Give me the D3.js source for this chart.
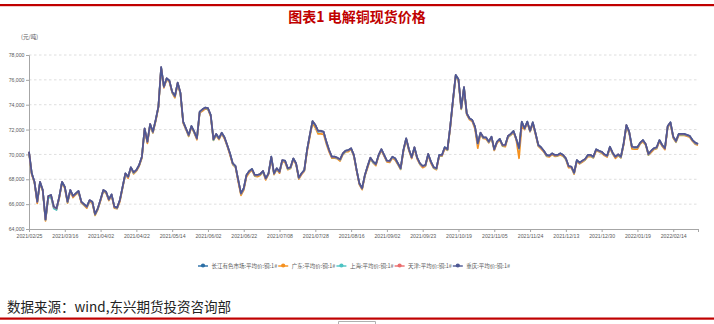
<!DOCTYPE html>
<html>
<head>
<meta charset="utf-8">
<script src="https://cdn.jsdelivr.net/npm/d3@7"></script>
<style>
  html, body { margin: 0; padding: 0; background: #fff; }
  svg { display: block; }
</style>
</head>
<body>
<svg id="chart" width="714" height="324"></svg>
<script>
// Dates labelled on the category axis (one label every 13 trading days)
const tickLabels = ["2021/02/25","2021/03/16","2021/04/02","2021/04/22","2021/05/14","2021/06/02",
  "2021/06/22","2021/07/08","2021/07/28","2021/08/16","2021/09/02","2021/09/23","2021/10/19",
  "2021/11/05","2021/11/24","2021/12/13","2021/12/30","2022/01/19","2022/02/14"];
const tickEvery = 13;

const seriesNames = ["长江有色市场:平均价:铜:1#","广东:平均价:铜:1#","上海:平均价:铜:1#","天津:平均价:铜:1#","重庆:平均价:铜:1#"];
const seriesColors = ["#2b6fa6","#f5901e","#4cc3c3","#ea6c6c","#4d5894"];

const yTicks = [64000,66000,68000,70000,72000,74000,76000,78000];

// Daily spot prices, yuan per tonne
const changjiang = [
70210,68480,67780,66190,67790,67140,64760,66640,66740,65790,
65650,66600,67780,67390,66190,67140,66640,66860,67060,66190,
65990,65800,66310,66190,65190,65660,66380,67130,67000,66380,
66780,65800,65700,66320,67390,68480,68190,68960,68560,68740,
69140,69820,72080,71020,72440,71830,72750,73840,77020,75450,
76120,75940,75030,74690,75770,74970,72620,72090,71570,72280,
71820,71300,73420,73620,73760,73720,73160,71210,71650,71290,
71740,71380,70740,70080,69280,69070,67930,66860,67280,68340,
68660,68830,68330,68340,68420,68670,68060,68470,69820,68470,
68880,68610,69530,69490,68880,68970,69670,69280,68130,68470,
68740,70360,71550,72680,72360,71890,71870,71820,71030,70350,
69810,69820,69720,69600,70080,70300,70340,70490,69960,68740,
67670,67280,68330,69060,69730,69420,69210,69950,70420,69950,
69490,69470,69800,69680,69280,68890,70340,71290,70420,69760,
70570,69740,69270,69060,69140,70040,69400,68960,68890,69950,
69950,70580,70400,72230,74370,76400,76030,73710,75410,73300,
72900,72770,72220,70890,71740,71380,71360,71020,71430,70410,
71020,71250,70740,70750,71480,71650,71870,71240,70500,72630,
72090,72640,71890,72580,71690,70760,70560,70290,69960,69890,
70080,69960,69940,70080,69950,69690,69050,69010,68530,69540,
69330,69500,69620,69950,69950,69820,70400,70290,70220,70000,
69890,70620,70120,69810,70000,69820,70880,72360,71830,70610,
70570,70580,70930,71150,70830,70040,70280,70490,70580,71150,
70750,70500,72270,72580,71420,71080,71630,71640,71650,71560,
71480,71160,70930,70840];

const guangdong = [
70120,68360,67710,66060,67690,67040,64650,66560,66620,65700,
65560,66480,67710,67260,66090,67040,66530,66780,66940,66100,
65900,65680,66240,66060,65090,65560,66270,67050,66880,66290,
66690,65680,65630,66190,67290,68380,68080,68880,68440,68650,
69050,69700,72010,70890,72340,71730,72640,73760,76900,75360,
76030,75820,74960,74560,75670,74870,72510,72010,71450,72190,
71730,71180,73350,73490,73660,73620,73050,71130,71530,71200,
71650,71260,70670,69950,69180,68970,67800,66700,67120,68200,
68530,68710,68260,68210,68320,68570,67950,68390,69700,68380,
68790,68490,69460,69360,68780,68870,69560,69200,68010,68380,
68650,70210,71400,72520,72150,71650,71660,71620,70850,70200,
69700,69700,69650,69470,69980,70200,70230,70410,69840,68650,
67580,67160,68260,68930,69630,69320,69100,69870,70300,69860,
69400,69350,69730,69550,69180,68790,70230,71210,70300,69670,
70480,69620,69200,68930,69040,69940,69290,68880,68770,69860,
69860,70460,70330,72100,74270,76300,75920,73630,75290,73210,
72810,72650,72050,70500,71640,71280,71250,70940,71310,70320,
70930,71130,70670,70620,71380,71550,71760,71160,69690,72300,
72000,72520,71820,72450,71590,70660,70450,70210,69840,69800,
69990,69840,69870,69950,69850,69590,68940,68930,68410,69450,
69240,69380,69550,69820,69850,69720,70290,70210,70100,69910,
69790,70500,70050,69680,69900,69720,70770,72280,71710,70450,
70420,70430,70860,71020,70740,69940,70170,70410,70460,71060,
70660,70380,72200,72450,71310,70980,71520,71560,71530,71470,
71380,71060,70830,70750];

const shanghai = [
70170,68440,67740,66160,67750,67070,64740,66500,66550,65650,
65520,66560,67740,67360,66150,67070,66620,66820,67000,66160,
65950,65760,66270,66160,65150,65590,66360,67090,66940,66350,
66740,65760,65660,66290,67350,68410,68170,68910,68500,68710,
69100,69780,72040,70990,72400,71760,72730,73800,76960,75420,
76080,75900,74990,74660,75730,74900,72600,72050,71510,72250,
71780,71260,73380,73590,73720,73650,73140,71150,71590,71260,
71700,71340,70700,70050,69240,69000,67910,66820,67220,68310,
68620,68790,68290,68310,68380,68600,68040,68430,69760,68440,
68840,68570,69490,69460,68840,68900,69650,69240,68070,68440,
68700,70320,71510,72650,72320,71820,71850,71780,70970,70320,
69770,69780,69680,69570,70040,70230,70320,70450,69900,68710,
67630,67240,68290,69030,69690,69350,69190,69910,70360,69920,
69450,69430,69760,69650,69240,68820,70320,71250,70360,69730,
70530,69700,69230,69030,69100,69970,69380,68920,68830,69920,
69910,70540,70360,72200,74330,76330,76010,73670,75350,73270,
72860,72730,72180,70860,71700,71310,71340,70980,71370,70380,
70980,71210,70700,70720,71440,71580,71850,71200,70440,72600,
72050,72600,71850,72550,71650,70690,70540,70250,69900,69860,
70040,69920,69900,70050,69910,69620,69030,68970,68470,69510,
69290,69460,69580,69920,69910,69750,70380,70250,70160,69970,
69850,70580,70080,69780,69960,69750,70860,72320,71770,70580,
70530,70540,70890,71120,70790,69970,70260,70450,70520,71120,
70710,70460,72230,72550,71380,71010,71610,71600,71590,71530,
71440,71120,70890,70810];

const tianjin = [
70200,68450,67780,66170,67790,67120,64750,66630,66720,65770,
65640,66570,67780,67370,66190,67120,66630,66850,67040,66170,
65980,65770,66310,66170,65190,65640,66370,67120,66980,66360,
66770,65770,65700,66300,67390,68460,68180,68950,68540,68720,
69130,69790,72080,71000,72440,71810,72740,73830,77000,75430,
76110,75910,75030,74670,75770,74950,72610,72080,71550,72260,
71810,71270,73420,73600,73760,73700,73150,71200,71630,71270,
71730,71350,70740,70060,69280,69050,67920,66850,67260,68320,
68650,68800,68330,68320,68420,68650,68050,68460,69800,68450,
68870,68580,69530,69470,68880,68950,69660,69270,68110,68450,
68730,70330,71550,72660,72360,71870,71860,71810,71010,70330,
69800,69790,69720,69580,70080,70280,70330,70480,69940,68720,
67660,67250,68330,69040,69730,69400,69200,69940,70400,69930,
69480,69440,69800,69660,69280,68870,70330,71280,70400,69740,
70560,69710,69270,69040,69140,70020,69390,68950,68870,69930,
69940,70550,70400,72210,74370,76380,76020,73700,75390,73280,
72890,72740,72220,70870,71740,71360,71350,71010,71410,70390,
71010,71220,70740,70730,71480,71630,71860,71230,70480,72610,
72080,72610,71890,72560,71690,70740,70550,70280,69940,69870,
70070,69930,69940,70060,69950,69670,69040,69000,68510,69520,
69320,69470,69620,69930,69950,69800,70390,70280,70200,69980,
69880,70590,70120,69790,70000,69800,70870,72350,71810,70590,
70560,70550,70930,71130,70830,70020,70270,70480,70560,71130,
70740,70470,72270,72560,71420,71060,71620,71630,71630,71540,
71470,71130,70930,70820];

const chongqing = [
70220,68480,67800,66200,67800,67140,64780,66650,66740,65800,
65660,66600,67800,67400,66200,67140,66660,66870,67060,66200,
66000,65800,66330,66200,65200,65660,66400,67140,67000,66390,
66790,65800,65720,66330,67400,68480,68210,68970,68560,68750,
69150,69820,72100,71030,72450,71830,72770,73850,77020,75460,
76130,75940,75050,74700,75780,74970,72640,72100,71570,72290,
71830,71300,73440,73630,73770,73720,73180,71220,71650,71300,
71750,71380,70760,70090,69290,69070,67950,66870,67280,68350,
68670,68830,68350,68350,68430,68670,68080,68480,69820,68480,
68890,68610,69550,69500,68890,68970,69690,69290,68130,68480,
68750,70360,71570,72690,72370,71890,71890,71830,71030,70360,
69820,69820,69740,69610,70090,70300,70360,70500,69960,68750,
67680,67280,68350,69070,69740,69420,69230,69960,70420,69960,
69500,69470,69820,69690,69290,68890,70360,71300,70420,69770,
70580,69740,69290,69070,69150,70040,69420,68970,68890,69960,
69960,70580,70420,72240,74380,76400,76050,73720,75410,73310,
72910,72770,72240,70900,71750,71380,71380,71030,71430,70420,
71030,71250,70760,70760,71490,71650,71890,71250,70500,72640,
72100,72640,71910,72590,71700,70760,70580,70300,69960,69900,
70090,69960,69960,70090,69960,69690,69070,69020,68530,69550,
69340,69500,69640,69960,69960,69820,70420,70300,70220,70010,
69900,70620,70140,69820,70010,69820,70900,72370,71830,70620,
70580,70580,70950,71160,70840,70040,70300,70500,70580,71160,
70760,70500,72290,72590,71430,71080,71650,71650,71650,71570,
71490,71160,70950,70850];

const seriesValues = [changjiang, guangdong, shanghai, tianjin, chongqing];
const categories = d3.range(chongqing.length);

const svg = d3.select("#chart");
const W = 714, H = 324;
const plot = { left: 29, right: 698, top: 55, bottom: 229 };
const axisFont = "'Liberation Sans', Arial, sans-serif";
const cjkFont = "'Noto Sans CJK SC', 'Noto Sans', sans-serif";

// Page rules and title
svg.append("rect").attr("x", 0).attr("y", 4).attr("width", W).attr("height", 2.2).attr("fill", "#c00000");
svg.append("rect").attr("x", 0).attr("y", 317.5).attr("width", W).attr("height", 2.2).attr("fill", "#c00000");
svg.append("path").attr("d", "M338.5,324 V321.5 H375.5 V324").attr("fill", "none").attr("stroke", "#b0b0b0").attr("stroke-width", 1);

svg.append("text")
  .attr("x", 357).attr("y", 21.5)
  .attr("text-anchor", "middle")
  .attr("font-family", cjkFont).attr("font-weight", "bold")
  .attr("font-size", 14).attr("fill", "#c00000")
  .text("图表1 电解铜现货价格");

svg.append("text")
  .attr("x", 7).attr("y", 311.5)
  .attr("font-family", cjkFont).attr("font-size", 13.5).attr("fill", "#222")
  .text("数据来源：wind,东兴期货投资咨询部");

// Scales
const x = d3.scalePoint().domain(categories).range([plot.left, plot.right]);
const y = d3.scaleLinear().domain([yTicks[0], yTicks[yTicks.length - 1]]).range([plot.bottom, plot.top]);

// Dashed horizontal gridlines
svg.append("g").selectAll("line")
  .data(yTicks.slice(1))
  .join("line")
  .attr("x1", plot.left).attr("x2", plot.right)
  .attr("y1", d => y(d)).attr("y2", d => y(d))
  .attr("stroke", "#d6d6d6").attr("stroke-width", 0.8)
  .attr("stroke-dasharray", "2.5,2.5");

// Y axis
const yAxis = svg.append("g")
  .attr("transform", `translate(${plot.left},0)`)
  .call(d3.axisLeft(y).tickValues(yTicks).tickSize(3).tickPadding(1.5).tickFormat(d3.format(",")));
yAxis.select(".domain").attr("stroke", "#a6a6a6");
yAxis.selectAll(".tick line").attr("stroke", "#a6a6a6");
yAxis.selectAll("text").attr("font-family", axisFont).attr("font-size", 5.2).attr("fill", "#595959");

svg.append("text")
  .attr("x", 21).attr("y", 39)
  .attr("font-family", cjkFont).attr("font-size", 5.6).attr("fill", "#595959")
  .text("(元/吨)");

// X axis: tick every 13 trading days, plus one closing tick at the end
const xTickValues = categories.filter(i => i % tickEvery === 0).concat([categories[categories.length - 1]]);
const xAxis = svg.append("g")
  .attr("transform", `translate(0,${plot.bottom})`)
  .call(d3.axisBottom(x).tickValues(xTickValues).tickSize(3).tickPadding(2.5)
    .tickFormat(i => (i % tickEvery === 0 && tickLabels[i / tickEvery]) ? tickLabels[i / tickEvery] : ""));
xAxis.select(".domain").attr("stroke", "#a6a6a6");
xAxis.selectAll(".tick line").attr("stroke", "#a6a6a6");
xAxis.selectAll("text").attr("font-family", axisFont).attr("font-size", 5.2).attr("fill", "#595959");

// Price lines
const line = d3.line().x((d, i) => x(i)).y(d => y(d));
svg.append("g").selectAll("path")
  .data(seriesValues)
  .join("path")
  .attr("d", d => line(d))
  .attr("fill", "none")
  .attr("stroke", (d, i) => seriesColors[i])
  .attr("stroke-width", 1.7)
  .attr("stroke-linejoin", "round");

// Legend
const legend = svg.append("g");
let lx = 203;
const ly = 266;
seriesNames.forEach((name, i) => {
  const g = legend.append("g");
  g.append("line").attr("x1", lx - 5).attr("x2", lx + 5).attr("y1", ly).attr("y2", ly)
    .attr("stroke", seriesColors[i]).attr("stroke-width", 1.4);
  g.append("circle").attr("cx", lx).attr("cy", ly - 0.5).attr("r", 2.1).attr("fill", seriesColors[i]);
  const t = g.append("text").attr("x", lx + 8.5).attr("y", ly + 2)
    .attr("font-family", cjkFont).attr("font-size", 5.5).attr("fill", "#595959").text(name);
  lx = lx + 8.5 + t.node().getComputedTextLength() + 6;
});
</script>
</body>
</html>
